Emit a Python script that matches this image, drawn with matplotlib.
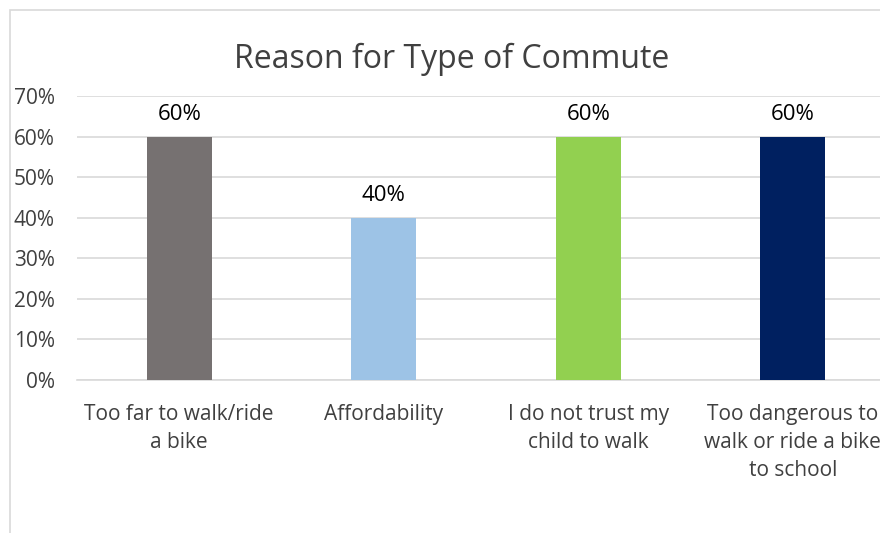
import matplotlib
matplotlib.use("Agg")
import matplotlib.pyplot as plt
from matplotlib.patches import Rectangle
from matplotlib.ticker import PercentFormatter

categories = ["Too far to walk/ride\na bike", "Affordability",
              "I do not trust my\nchild to walk",
              "Too dangerous to\nwalk or ride a bike\nto school"]
values = [60, 40, 60, 60]
colors = ["#767171", "#9DC3E6", "#92D050", "#002060"]
y_ticks = [0, 10, 20, 30, 40, 50, 60, 70]
title = "Reason for Type of Commute"

plt.rcParams["font.family"] = ["Open Sans", "DejaVu Sans"]

W, H = 880, 533
fig = plt.figure(figsize=(W / 100, H / 100), dpi=100)

# chart frame
fig.patches.append(Rectangle((10 / W, -0.1), 1.2, 1 - 10 / H + 0.1,
                             transform=fig.transFigure, fill=False,
                             edgecolor="#d9d9d9", linewidth=1.2))

left, right = 77 / W, 895 / W
bottom, top = 1 - 380 / H, 1 - 96 / H
ax = fig.add_axes([left, bottom, right - left, top - bottom])
ax.set_xlim(-0.5, len(categories) - 0.5)
ax.set_ylim(0, 70)

x = range(len(categories))
bars = ax.bar(x, values, width=0.318, color=colors, zorder=3)
for b, v in zip(bars, values):
    ax.text(b.get_x() + b.get_width() / 2, v + 4, f"{v}%", ha="center",
            va="baseline", fontsize=16, color="#000000")

ax.set_yticks(y_ticks)
ax.yaxis.set_major_formatter(PercentFormatter(decimals=0))
ax.grid(axis="y", color="#d9d9d9", linewidth=1.2, zorder=0)
ax.set_axisbelow(True)
for s in ["top", "right", "left"]:
    ax.spines[s].set_visible(False)
ax.spines["bottom"].set_color("#d9d9d9")
ax.spines["bottom"].set_linewidth(1.2)
ax.tick_params(axis="y", length=0, pad=16, labelsize=15, labelcolor="#404040")
ax.tick_params(axis="x", length=0, pad=17, labelsize=15, labelcolor="#404040")
ax.set_xticks(list(x))
ax.set_xticklabels(categories, linespacing=1.45)

fig.text(452 / W, 1 - 68 / H, title, ha="center", va="baseline",
         fontsize=23, color="#404040")

fig.savefig("out.png", dpi=100)
